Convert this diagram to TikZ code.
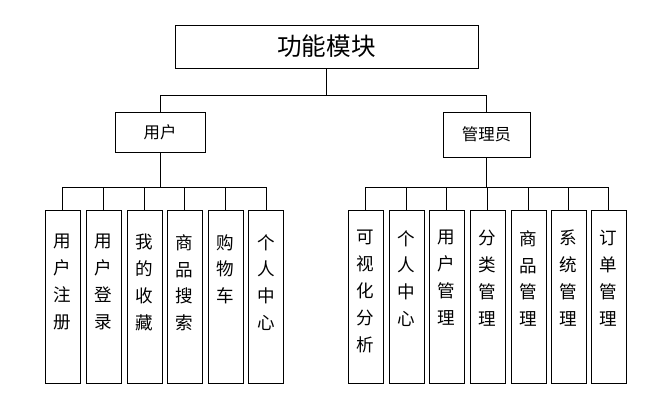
\documentclass[tikz,border=0pt]{standalone}
\usepackage{fontspec}
\setmainfont{Noto Sans CJK SC}
\usetikzlibrary{positioning}
\tikzset{
  box/.style={draw,line width=0.5pt,inner sep=2pt},
  leaf/.style={box,minimum width=1.05cm,minimum height=5.19cm,anchor=north},
  leaftxt/.style={align=center,anchor=north,inner sep=0pt,font=\fontsize{15}{23}\selectfont},
  bus/.style={line width=0.5pt}
}
\begin{document}
\begin{tikzpicture}[x=0.03cm,y=-0.03cm]
\useasboundingbox (0,0) rectangle (661,416);

\node[box,minimum width=9.09cm,minimum height=1.29cm,font=\fontsize{21}{24}\selectfont] (top) at (326.5,46.5) {功能模块};
\node[box,minimum width=2.7cm,minimum height=1.2cm,font=\fontsize{14}{16}\selectfont] (user) at (160,132) {用户};
\node[box,minimum width=2.61cm,minimum height=1.35cm,font=\fontsize{14}{16}\selectfont] (admin) at (486.5,134.5) {管理员};

\draw[bus] (top.south) -- ++(0,27) coordinate (hub) -| (user.north);
\draw[bus] (hub) -| (admin.north);

% 用户
\foreach \name/\x/\txt in {u1/62.5/用\\户\\注\\册, u2/103.5/用\\户\\登\\录, u3/144.5/我\\的\\收\\藏,
    u4/184.5/商\\品\\搜\\索, u5/225.5/购\\物\\车, u6/266/个\\人\\中\\心}{
  \node[leaf] (\name) at (\x,210) {};
  \node[leaftxt,below=0.72cm of \name.north] (\name-t) {\txt};
  \draw[bus] (user.south) -- ++(0,35) -| (\name.north);
}

% 管理员
\foreach \name/\x/\txt in {a1/365.5/可\\视\\化\\分\\析, a2/406.5/个\\人\\中\\心, a3/446.5/用\\户\\管\\理,
    a4/487.5/分\\类\\管\\理, a5/528.5/商\\品\\管\\理, a6/568.5/系\\统\\管\\理, a7/608.5/订\\单\\管\\理}{
  \node[leaf] (\name) at (\x,210) {};
  \node[leaftxt,below=0.6cm of \name.north] (\name-t) {\txt};
  \draw[bus] (admin.south) -- ++(0,30) -| (\name.north);
}

\end{tikzpicture}
\end{document}
